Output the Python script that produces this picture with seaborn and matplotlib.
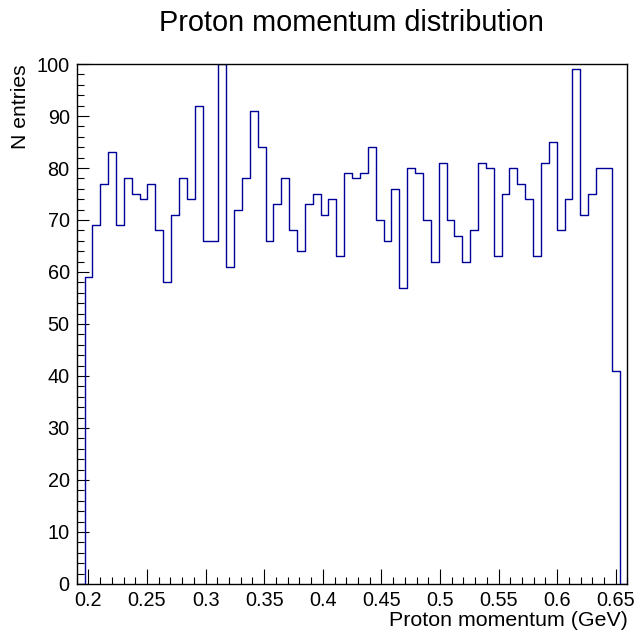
import numpy as np
import pandas as pd
import matplotlib
matplotlib.use("Agg")
import matplotlib.pyplot as plt
from matplotlib.ticker import MultipleLocator, FuncFormatter
import seaborn as sns

# Histogram definition: 70 bins between 0.19 and 0.66 GeV
x_min, x_max, n_bins = 0.19, 0.66, 70
counts = [0,
          59, 69, 77, 83, 69, 78, 75, 74, 77, 68,
          58, 71, 78, 74, 92, 66, 66, 100, 61, 72,
          78, 91, 84, 66, 73, 78, 68, 64, 73, 75,
          71, 74, 63, 79, 78, 79, 84, 70, 66, 76,
          57, 80, 79, 70, 62, 81, 70, 67, 62, 68,
          81, 80, 63, 75, 80, 77, 74, 63, 81, 85,
          68, 74, 99, 71, 75, 80, 80, 41,
          0]

title = "Proton momentum distribution"
x_label = "Proton momentum (GeV)"
y_label = "N entries"

edges = np.linspace(x_min, x_max, n_bins + 1)
centers = 0.5 * (edges[:-1] + edges[1:])
df = pd.DataFrame({"momentum": centers, "entries": counts})

sns.set_theme(style="white")
plt.rcParams["font.family"] = ["Liberation Sans", "DejaVu Sans"]
plt.rcParams["text.color"] = "black"
plt.rcParams["axes.labelcolor"] = "black"

fig = plt.figure(figsize=(6.39, 6.34), dpi=100)
ax = fig.add_axes([0.120, 0.079, 0.862, 0.820])

sns.histplot(data=df, x="momentum", weights="entries", bins=n_bins,
             binrange=(x_min, x_max), element="step", fill=False,
             color="#000099", linewidth=1.0, ax=ax)

ax.set_xlim(x_min, x_max)
ax.set_ylim(0, 100)

ax.xaxis.set_major_locator(MultipleLocator(0.05))
ax.xaxis.set_minor_locator(MultipleLocator(0.01))
ax.yaxis.set_major_locator(MultipleLocator(10))
ax.yaxis.set_minor_locator(MultipleLocator(2))
ax.xaxis.set_major_formatter(FuncFormatter(lambda v, p: f"{v:g}"))
ax.yaxis.set_major_formatter(FuncFormatter(lambda v, p: f"{v:g}"))

ax.tick_params(axis="both", which="both", direction="in", colors="black",
               labelsize=14.3, top=False, right=False, bottom=True, left=True)
ax.tick_params(axis="x", which="major", length=10.5, width=0.8, pad=5)
ax.tick_params(axis="x", which="minor", length=5.3, width=0.8)
ax.tick_params(axis="y", which="major", length=8.5, width=0.8, pad=5)
ax.tick_params(axis="y", which="minor", length=4.8, width=0.8)

for s in ax.spines.values():
    s.set_visible(True)
    s.set_color("black")
    s.set_linewidth(1.0)

ax.set_xlabel(x_label, fontsize=15.4, ha="right")
ax.xaxis.set_label_coords(1.0, -0.052)
ax.set_ylabel(y_label, fontsize=15.2, ha="right")
ax.yaxis.set_label_coords(-0.084, 1.0)
fig.text(0.550, 1 - 31 / 634, title, fontsize=20.8, ha="center", va="baseline")

fig.savefig("out.png", dpi=100, facecolor="white")
